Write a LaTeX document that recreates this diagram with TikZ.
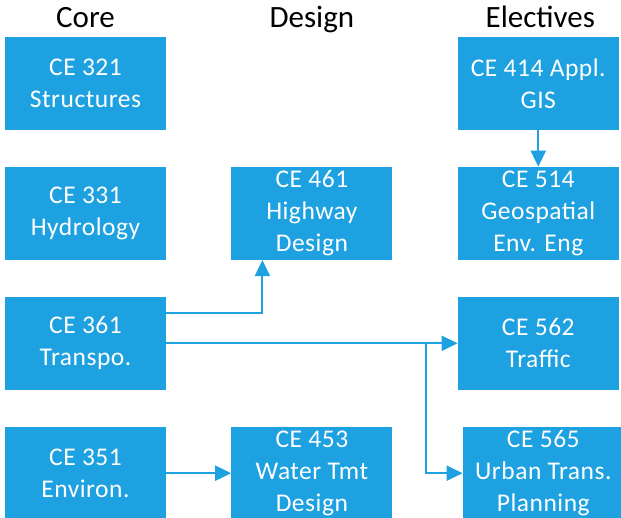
\documentclass[tikz,border=0pt]{standalone}
\usepackage{fontspec}
\setmainfont{Carlito}
\newfontfamily\courseface[LetterSpace=2]{Carlito}
\usepackage{tikz}
\usetikzlibrary{arrows.meta,positioning}
\definecolor{CourseBlue}{HTML}{1DA1E0}
\newcommand\coursefont{\courseface\fontsize{25.5}{32}\selectfont}
\newcommand\headfont{\fontsize{31}{36}\selectfont}

\begin{document}
\begin{tikzpicture}[
  x=1pt,y=1pt,
  node distance=36.5pt and 65pt,
  course/.style={fill=CourseBlue,minimum width=161pt,minimum height=93pt,inner sep=0pt,
                 align=center,text=white,font=\coursefont},
  head/.style={font=\headfont,anchor=base,inner sep=0pt},
  arrow/.style={-{Triangle[length=16pt,width=15pt]},line width=2pt,color=CourseBlue}
]
  \useasboundingbox (0,0) rectangle (621,518);
  \clip (0,0) rectangle (621,518);
  % core column
  \node[course] (c321) at (85.5,434.5) {CE 321\\Structures};
  \node[course,below=of c321] (c331) {CE 331\\Hydrology};
  \node[course,below=of c331] (c361) {CE 361\\Transpo.};
  \node[course,below=of c361] (c351) {CE 351\\Environ.};
  % design column
  \node[course,right=of c331] (d461) {CE 461\\Highway\\Design};
  \node[course,right=of c351] (d453) {CE 453\\Water Tmt\\Design};
  % electives column
  \node[course,right=of d461] (e514) {CE 514\\Geospatial\\Env. Eng};
  \node[course,above=of e514] (e414) {CE 414 Appl.\\GIS};
  \node[course,below=of e514] (e562) {CE 562\\Traffic};
  \node[course,below=of e562,xshift=5pt] (e565) {CE 565\\Urban Trans.\\Planning};
  % headers
  \node[head] (hcore) at ([yshift=9pt]c321.north) {Core};
  \node[head] (hdesign) at (hcore.base -| d461) {Design};
  \node[head] (helect) at ([xshift=2pt]hcore.base -| e414) {Electives};
  % prerequisites
  \coordinate (split) at ([xshift=-32pt]e562.west);
  \draw[arrow] (e414) -- (e514);
  \draw[arrow] ([yshift=30pt]c361.east) -| ([xshift=-49.5pt]d461.south);
  \draw[arrow] (c361) -- (e562);
  \draw[arrow] (split) |- (e565);
  \draw[arrow] (c351) -- (d453);
\end{tikzpicture}
\end{document}
